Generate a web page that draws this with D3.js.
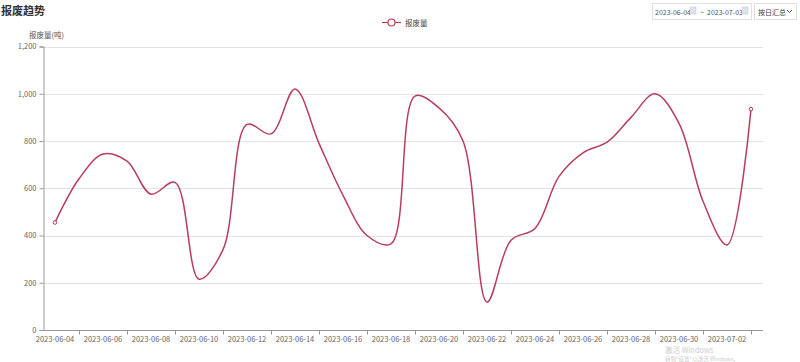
<!DOCTYPE html>
<html><head><meta charset="utf-8">
<script src="https://cdn.jsdelivr.net/npm/d3@7"></script>
<style>
body{margin:0;background:#fff;font-family:"Noto Sans CJK SC","Noto Sans",sans-serif;}
svg{display:block}
</style></head>
<body>
<svg id="c" width="800" height="362"></svg>
<script>
const dates = ["2023-06-04","2023-06-05","2023-06-06","2023-06-07","2023-06-08","2023-06-09","2023-06-10","2023-06-11","2023-06-12","2023-06-13","2023-06-14","2023-06-15","2023-06-16","2023-06-17","2023-06-18","2023-06-19","2023-06-20","2023-06-21","2023-06-22","2023-06-23","2023-06-24","2023-06-25","2023-06-26","2023-06-27","2023-06-28","2023-06-29","2023-06-30","2023-07-01","2023-07-02","2023-07-03"];
const values = [455,640,745,715,575,625,215,340,870,830,1020,790,570,400,365,990,940,800,118,380,430,650,750,795,900,1000,875,545,360,935];
const yTicks = [0,200,400,600,800,1000,1200];
const title = "报废趋势";
const seriesName = "报废量";
const yName = "报废量(吨)";
const startDate = "2023-06-04", endDate = "2023-07-03", modeLabel = "按日汇总";

(function(){
const svg = d3.select("#c");
const font = '"Noto Sans CJK SC","Noto Sans",sans-serif';
const color = "#b93d5d";
const mLeft = 43, mRight = 763, mTop = 46.5, mBottom = 330;

const x = d3.scaleBand().domain(dates).range([mLeft, mRight]);
const xc = d => x(d) + x.bandwidth()/2;
const y = d3.scaleLinear().domain([0,1200]).range([mBottom, mTop]);

svg.append("text").attr("x",1).attr("y",15).text(title)
  .attr("font-family",font).attr("font-size",11).attr("font-weight","bold").attr("fill","#333");

svg.append("g").selectAll("line").data(yTicks.slice(1)).join("line")
  .attr("x1",mLeft).attr("x2",mRight).attr("y1",d=>Math.round(y(d))+0.5).attr("y2",d=>Math.round(y(d))+0.5)
  .attr("stroke","#e3e3e3").attr("stroke-width",1);

const ya = svg.append("g").attr("transform",`translate(${mLeft+0.5},0)`)
  .call(d3.axisLeft(y).tickValues(yTicks).tickSize(4).tickPadding(3).tickFormat(d3.format(",")));
ya.select(".domain").attr("stroke","#999");
ya.selectAll(".tick line").attr("stroke","#999");
ya.selectAll("text").attr("font-family",font).attr("font-size",7.5).attr("fill","#666");

svg.append("text").attr("x",29).attr("y",38).text(yName)
  .attr("font-family",font).attr("font-size",7.5).attr("fill","#555");

const xg = svg.append("g").attr("transform",`translate(0,${mBottom+0.5})`);
xg.append("line").attr("x1",mLeft).attr("x2",mRight).attr("stroke","#999");
xg.selectAll("line.tk").data(dates.filter((d,i)=>i%2===1)).join("line").attr("class","tk")
  .attr("x1",d=>xc(d)+0.5).attr("x2",d=>xc(d)+0.5).attr("y1",0).attr("y2",4).attr("stroke","#999");
xg.selectAll("text").data(dates.filter((d,i)=>i%2===0)).join("text")
  .attr("x",d=>xc(d)).attr("y",11).attr("text-anchor","middle").text(d=>d)
  .attr("font-family",font).attr("font-size",7.5).attr("fill","#666");

const line = d3.line().x((d,i)=>xc(dates[i])).y(d=>y(d)).curve(d3.curveCatmullRom.alpha(0.5));
svg.append("path").datum(values).attr("d",line).attr("fill","none")
  .attr("stroke",color).attr("stroke-width",1.5);
svg.selectAll("circle.pt").data([0, values.length-1]).join("circle").attr("class","pt")
  .attr("cx",i=>xc(dates[i])).attr("cy",i=>y(values[i])).attr("r",1.8)
  .attr("fill","#fff").attr("stroke",color).attr("stroke-width",1);

const lg = svg.append("g");
lg.append("line").attr("x1",382).attr("x2",401).attr("y1",22.5).attr("y2",22.5).attr("stroke",color).attr("stroke-width",1.2);
lg.append("circle").attr("cx",391.5).attr("cy",22.5).attr("r",3.5).attr("fill","#fff").attr("stroke",color).attr("stroke-width",1.2);
lg.append("text").attr("x",405).attr("y",25.5).text(seriesName).attr("font-family",font).attr("font-size",7.5).attr("fill","#444");

const ctl = svg.append("g");
ctl.append("rect").attr("x",652.5).attr("y",3.5).attr("width",99).attr("height",16).attr("fill","#fff").attr("stroke","#e0e0e0");
ctl.append("text").attr("x",655).attr("y",14.5).text(startDate).attr("font-family",font).attr("font-size",7).attr("fill","#555");
ctl.append("rect").attr("x",690).attr("y",7).attr("width",6).attr("height",7).attr("fill","#dde4ee").attr("stroke","#b8c4d6").attr("stroke-width",0.5);
ctl.append("text").attr("x",700).attr("y",14.5).text("~").attr("font-family",font).attr("font-size",7).attr("fill","#555");
ctl.append("text").attr("x",707).attr("y",14.5).text(endDate).attr("font-family",font).attr("font-size",7).attr("fill","#555");
ctl.append("rect").attr("x",742).attr("y",7).attr("width",6).attr("height",7).attr("fill","#dde4ee").attr("stroke","#b8c4d6").attr("stroke-width",0.5);
ctl.append("rect").attr("x",754.5).attr("y",3.5).attr("width",42).attr("height",16).attr("fill","#fff").attr("stroke","#e0e0e0");
ctl.append("text").attr("x",758).attr("y",14.5).text(modeLabel).attr("font-family",font).attr("font-size",7).attr("fill","#444");
ctl.append("path").attr("d","M787,10 L789.5,12.5 L792,10").attr("fill","none").attr("stroke","#555").attr("stroke-width",1);

svg.append("text").attr("x",665).attr("y",352.5).text("激活 Windows").attr("font-family",font).attr("font-size",7.5).attr("fill","#ccc");
svg.append("text").attr("x",665).attr("y",361).text("转到\"设置\"以激活 Windows。").attr("font-family",font).attr("font-size",5.5).attr("fill","#ccc");
})();
</script>
</body></html>
